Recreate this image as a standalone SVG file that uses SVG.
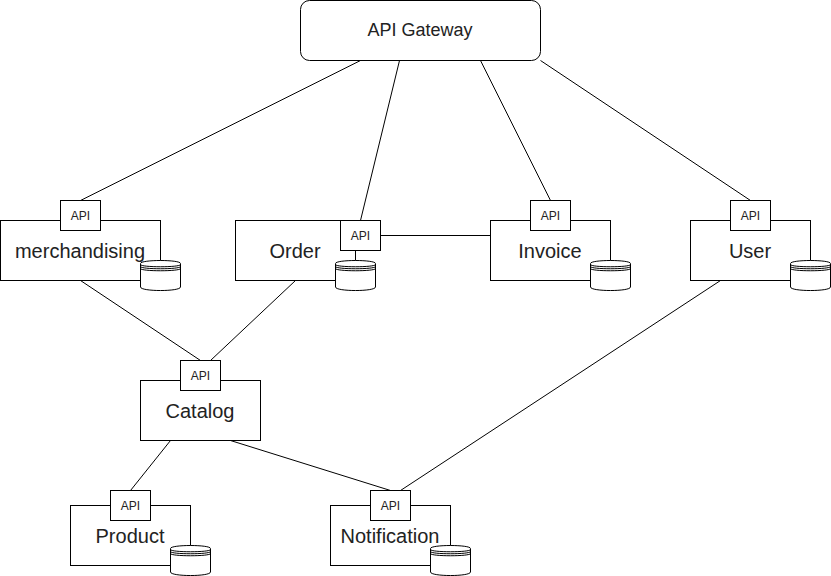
<svg xmlns="http://www.w3.org/2000/svg" width="831" height="576" viewBox="0 0 831 576">
<defs>
<style>
.b{fill:#fff;stroke:#000;stroke-width:1}
.c{fill:none;stroke:#000;stroke-width:1}
text{font-family:"Liberation Sans",Arial,sans-serif;fill:#222;text-anchor:middle}
.n{font-size:20px}
.a{font-size:12px}
.g{font-size:18px}
</style>
<g id="api"><rect class="b" x="0.5" y="0.5" width="40" height="30"/><text class="a" x="20.5" y="19.5">API</text></g>
<g id="db"><path class="b" d="M0.5 3.5C0.5 -0.5 40.5 -0.5 40.5 3.5V27C40.5 31.7 0.5 31.7 0.5 27Z"/><path class="c" d="M0.5 4.5C0.5 7.5 40.5 7.5 40.5 4.5M0.5 6.5C0.5 9.5 40.5 9.5 40.5 6.5M0.5 8.5C0.5 11.5 40.5 11.5 40.5 8.5"/></g>
</defs>
<g id="connectors" class="c">
<path d="M360.5 60.5L80.5 200.5"/>
<path d="M399.5 60.5L360.5 220.5"/>
<path d="M480.5 60.5L550.5 200.5"/>
<path d="M540.5 60.5L750.5 200.5"/>
<path d="M380.5 235.5H490.5"/>
<path d="M355.5 250.5V260.5"/>
<path d="M80.5 280.5L200.5 360.5"/>
<path d="M295.5 280.5L210.5 360.5"/>
<path d="M170.5 440.5L130.5 490.5"/>
<path d="M230.5 440.5L390.5 490.5"/>
<path d="M720.5 280.5L400.5 490.5"/>
</g>
<g id="gateway"><rect class="b" x="300.5" y="0.5" width="240" height="60" rx="9" ry="9"/><text class="g" x="420" y="36">API Gateway</text></g>
<g id="merchandising"><rect class="b" x="0.5" y="220.5" width="160" height="60"/><text class="n" x="80" y="257.5">merchandising</text><use href="#api" x="60" y="200"/><use href="#db" x="140" y="260"/></g>
<g id="order"><rect class="b" x="235.5" y="220.5" width="120" height="60"/><text class="n" x="295" y="257.5">Order</text><use href="#api" x="340" y="220"/><use href="#db" x="335" y="260"/></g>
<g id="invoice"><rect class="b" x="490.5" y="220.5" width="120" height="60"/><text class="n" x="550" y="257.5">Invoice</text><use href="#api" x="530" y="200"/><use href="#db" x="590" y="260"/></g>
<g id="user"><rect class="b" x="690.5" y="220.5" width="120" height="60"/><text class="n" x="750" y="257.5">User</text><use href="#api" x="730" y="200"/><use href="#db" x="790" y="260"/></g>
<g id="catalog"><rect class="b" x="140.5" y="380.5" width="120" height="60"/><text class="n" x="200" y="417.5">Catalog</text><use href="#api" x="180" y="360"/></g>
<g id="product"><rect class="b" x="70.5" y="505.5" width="120" height="60"/><text class="n" x="130" y="542.5">Product</text><use href="#api" x="110" y="490"/><use href="#db" x="170" y="545"/></g>
<g id="notification"><rect class="b" x="330.5" y="505.5" width="120" height="60"/><text class="n" x="390" y="542.5">Notification</text><use href="#api" x="370" y="490"/><use href="#db" x="430" y="545"/></g>
</svg>
